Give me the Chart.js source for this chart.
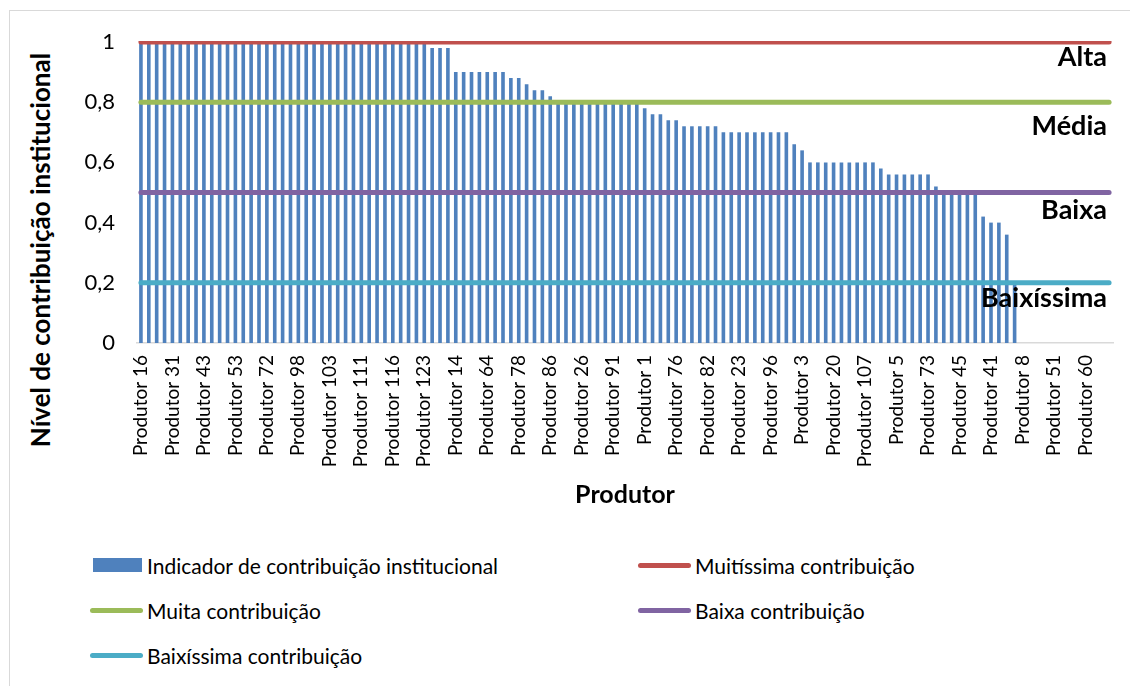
<!DOCTYPE html>
<html>
<head>
<meta charset="utf-8">
<script src="https://cdn.jsdelivr.net/npm/chart.js@4.4.1/dist/chart.umd.min.js"></script>
<style>
  body { margin: 0; background: #fff; overflow: hidden; font-family: Lato, "Open Sans", sans-serif; }
  #frame { position: absolute; left: 9px; top: 10px; width: 1140px; height: 700px; border: 1px solid #d9d9d9; }
  #chart-box { position: absolute; left: 0; top: 0; width: 1130px; height: 530px; }
  #y-title { position: absolute; left: 40px; top: 250px; transform: translate(-50%, -50%) rotate(-90deg);
    white-space: nowrap; font: bold 26px Lato, sans-serif; color: #000; }
  .legend-item { position: absolute; display: flex; align-items: center; height: 28px; font: 21px Lato, sans-serif; color: #000; white-space: nowrap; }
  .legend-swatch { width: 55px; height: 14px; margin-right: 4px; display: flex; align-items: center; justify-content: flex-start; }
</style>
</head>
<body>
<div id="frame"></div>
<div id="y-title">Nível de contribuição institucional</div>
<div id="chart-box"><canvas id="chart" width="1130" height="530"></canvas></div>
<div id="legend"></div>
<script>
// tick labels shown under the axis (one every 4 producers)
const tickLabels = [
  "Produtor 16", "Produtor 31", "Produtor 43", "Produtor 53", "Produtor 72", "Produtor 98",
  "Produtor 103", "Produtor 111", "Produtor 116", "Produtor 123", "Produtor 14", "Produtor 64",
  "Produtor 78", "Produtor 86", "Produtor 26", "Produtor 91", "Produtor 1", "Produtor 76",
  "Produtor 82", "Produtor 23", "Produtor 96", "Produtor 3", "Produtor 20", "Produtor 107",
  "Produtor 5", "Produtor 73", "Produtor 45", "Produtor 41", "Produtor 8", "Produtor 51", "Produtor 60"
];

// indicador de contribuição institucional, one value per producer (groups of 4)
const indicatorValues = [
  1, 1, 1, 1,   1, 1, 1, 1,   1, 1, 1, 1,   1, 1, 1, 1,
  1, 1, 1, 1,   1, 1, 1, 1,   1, 1, 1, 1,   1, 1, 1, 1,
  1, 1, 1, 1,   1, 0.98, 0.98, 0.98,   0.9, 0.9, 0.9, 0.9,   0.9, 0.9, 0.9, 0.88,
  0.88, 0.86, 0.84, 0.84,   0.82, 0.8, 0.8, 0.8,   0.8, 0.8, 0.8, 0.8,   0.8, 0.8, 0.8, 0.8,
  0.78, 0.76, 0.76, 0.74,   0.74, 0.72, 0.72, 0.72,   0.72, 0.72, 0.7, 0.7,   0.7, 0.7, 0.7, 0.7,
  0.7, 0.7, 0.7, 0.66,   0.64, 0.6, 0.6, 0.6,   0.6, 0.6, 0.6, 0.6,   0.6, 0.6, 0.58, 0.56,
  0.56, 0.56, 0.56, 0.56,   0.56, 0.52, 0.5, 0.5,   0.5, 0.5, 0.5, 0.42,   0.4, 0.4, 0.36, 0.2,
  0, 0, 0, 0,   0, 0, 0, 0,   0, 0, 0, 0
];

const thresholdNames = ["Muitíssima contribuição", "Muita contribuição", "Baixa contribuição", "Baixíssima contribuição"];
const thresholdValues = [1, 0.8, 0.5, 0.2];
const thresholdColors = ["#C0504D", "#9BBB59", "#8064A2", "#4BACC6"];

const zoneLabels = ["Alta", "Média", "Baixa", "Baixíssima"];
const zoneLabelAt = [0.95, 0.72, 0.44, 0.15];

const categories = indicatorValues.map((v, i) => (i % 4 === 0 ? tickLabels[i / 4] : ""));

const zoneLabelPlugin = {
  id: "zoneLabels",
  afterDatasetsDraw(chart) {
    const { ctx, chartArea, scales } = chart;
    ctx.save();
    ctx.font = "bold 27px Lato, sans-serif";
    ctx.fillStyle = "#000";
    ctx.textAlign = "right";
    ctx.textBaseline = "middle";
    zoneLabels.forEach((t, i) => {
      ctx.fillText(t, chartArea.right - 6, scales.y.getPixelForValue(zoneLabelAt[i]));
    });
    ctx.restore();
  }
};

const datasets = [{
  type: "bar",
  label: "Indicador de contribuição institucional",
  data: indicatorValues,
  backgroundColor: "#4F81BD",
  barPercentage: 0.46,
  categoryPercentage: 1,
  order: 1
}];
thresholdNames.forEach((name, i) => {
  datasets.push({
    type: "line",
    label: name,
    data: categories.map(() => thresholdValues[i]),
    borderColor: thresholdColors[i],
    backgroundColor: thresholdColors[i],
    borderWidth: 5,
    borderCapStyle: "round",
    pointRadius: 0,
    fill: false,
    clip: { left: 4, right: 4, top: 1, bottom: 3 },
    order: 0
  });
});

const chart = new Chart(document.getElementById("chart").getContext("2d"), {
  data: { labels: categories, datasets: datasets },
  options: {
    responsive: false,
    animation: false,
    devicePixelRatio: 1,
    layout: { padding: { top: 42, right: 17, bottom: 0, left: 0 } },
    plugins: { legend: { display: false }, tooltip: { enabled: false } },
    scales: {
      x: {
        type: "category",
        offset: true,
        grid: { display: false, drawTicks: false },
        border: { display: true, color: "#d9d9d9", width: 1.5 },
        ticks: {
          autoSkip: false, minRotation: 90, maxRotation: 90, padding: 12,
          color: "#000", font: { family: "Lato", size: 19 }
        },
        title: {
          display: true, text: "Produtor", color: "#000",
          font: { family: "Lato", size: 25, weight: "bold" },
          padding: { top: 0, bottom: 20 }
        },
        afterFit(scale) {
          scale.height = 187;
          // rotated labels are thin, no extra side room needed
          scale.paddingLeft = 0;
          scale.paddingRight = 0;
        }
      },
      y: {
        min: 0, max: 1,
        grid: { display: false, drawTicks: false },
        border: { display: false },
        ticks: {
          stepSize: 0.2, padding: 22, color: "#000",
          font: { family: "Lato", size: 22 },
          callback: v => String(Number(v.toFixed(1))).replace(".", ",")
        },
        afterFit(scale) { scale.width = 137; }
      }
    }
  },
  plugins: [zoneLabelPlugin]
});

// legend in two columns, like the original
const legendBox = document.getElementById("legend");
chart.data.datasets.forEach((ds, i) => {
  const row = Math.floor(i / 2), col = i % 2;
  const item = document.createElement("div");
  item.className = "legend-item";
  item.style.left = (col ? 636 : 88) + "px";
  item.style.top = (565 + row * 45 - 14) + "px";
  const sw = document.createElement("div");
  sw.className = "legend-swatch";
  const mark = document.createElement("div");
  if (ds.type === "bar") {
    mark.style.cssText = "width:49px;height:14px;margin-left:5px;background:" + ds.backgroundColor;
  } else {
    mark.style.cssText = "width:53px;height:5px;margin-left:2px;border-radius:3px;background:" + ds.borderColor;
  }
  sw.appendChild(mark);
  item.appendChild(sw);
  item.appendChild(document.createTextNode(ds.label));
  legendBox.appendChild(item);
});
</script>
</body>
</html>
